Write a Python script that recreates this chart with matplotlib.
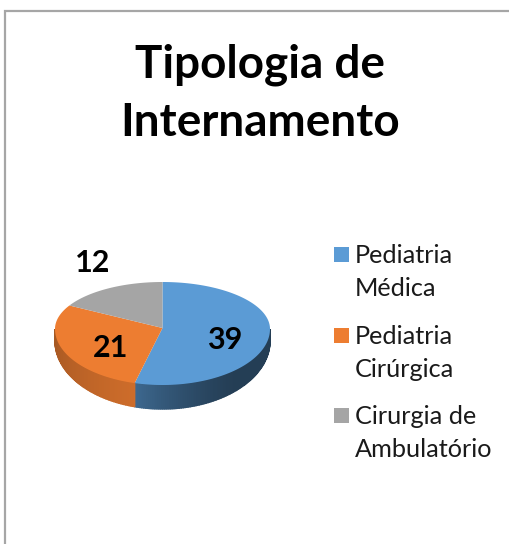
import numpy as np
import matplotlib
matplotlib.use("Agg")
import matplotlib.pyplot as plt
from matplotlib.colors import to_rgb
from matplotlib.patches import Rectangle

categories = ["Pediatria\nMédica", "Pediatria\nCirúrgica", "Cirurgia de\nAmbulatório"]
values = [39, 21, 12]
colors = ["#5B9BD5", "#ED7D31", "#A5A5A5"]
title = "Tipologia de\nInternamento"

plt.rcParams["font.family"] = ["Lato", "DejaVu Sans"]
W, H = 509, 544
fig = plt.figure(figsize=(W / 100, H / 100), dpi=100)
ax = fig.add_axes([0, 0, 1, 1])
ax.set_xlim(0, W)
ax.set_ylim(H, 0)
ax.axis("off")

# chart frame (only top and left are inside the crop)
ax.plot([5, 5, W], [H, 11, 11], color="#A6A6A6", lw=1.6, solid_joinstyle="miter", zorder=1)

# pie geometry with a simple perspective
CX, CY, RX = 162.5, 329.0, 107.5
RY_BACK, RY_FRONT = 47.0, 56.0


def top_xy(phi):
    c = np.cos(phi)
    return CX + RX * np.sin(phi), CY - c * np.where(c > 0, RY_BACK, RY_FRONT)


def depth(phi):
    return 12 + 12 * np.clip(-np.cos(phi), 0, 1)


def rim_shade(i, u):
    if i == 0:  # blue: dark on the right, lighter toward the seam
        return 0.40 + 0.27 * np.clip((u - 0.45) / 0.55, 0, 1) ** 1.5
    return 0.87 - 0.17 * u  # orange: lighter on the left, darker at the seam


fracs = np.array(values, dtype=float) / sum(values)
edges = np.concatenate([[0], np.cumsum(fracs)]) * 2 * np.pi

# rim
for i, col in enumerate(colors):
    a0, a1 = max(edges[i], np.pi / 2), min(edges[i + 1], 3 * np.pi / 2)
    if a1 <= a0:
        continue
    grid = np.linspace(a0, a1, int(np.degrees(a1 - a0)) + 2)
    base = np.array(to_rgb(col))
    for p0, p1 in zip(grid[:-1], grid[1:]):
        u = ((p0 + p1) / 2 - a0) / (a1 - a0)
        x0, y0 = top_xy(p0)
        x1, y1 = top_xy(p1)
        ax.fill([x0, x1, x1, x0], [y0, y1, y1 + depth(p1), y0 + depth(p0)],
                color=tuple(base * rim_shade(i, u)), lw=1.0, zorder=2)

# top surface
for i, col in enumerate(colors):
    grid = np.linspace(edges[i], edges[i + 1], 160)
    x, y = top_xy(grid)
    ax.fill(np.r_[CX, x], np.r_[CY - 1, y], color=col, lw=0, zorder=3)

# title
ax.text(260, 94, title, ha="center", va="center", fontsize=33, fontweight="bold",
        color="black", linespacing=1.47, zorder=5)

# data labels
label_pos = [(225, 340), (111, 348), (93, 263)]
for v, (lx, ly) in zip(values, label_pos):
    ax.text(lx, ly, str(v), ha="center", va="center", fontsize=22, fontweight="bold",
            color="black", zorder=5)

# legend
legend_y = [254.5, 335.5, 415.5]
for lab, col, ly in zip(categories, colors, legend_y):
    ax.add_patch(Rectangle((334, ly - 7.5), 15, 15, color=col, lw=0, zorder=5))
    ax.text(355, ly + 17.5, lab, ha="left", va="center", fontsize=18.2, color="#1A1A1A",
            linespacing=1.49, zorder=5)

fig.savefig("out.png", dpi=100, facecolor="white")
